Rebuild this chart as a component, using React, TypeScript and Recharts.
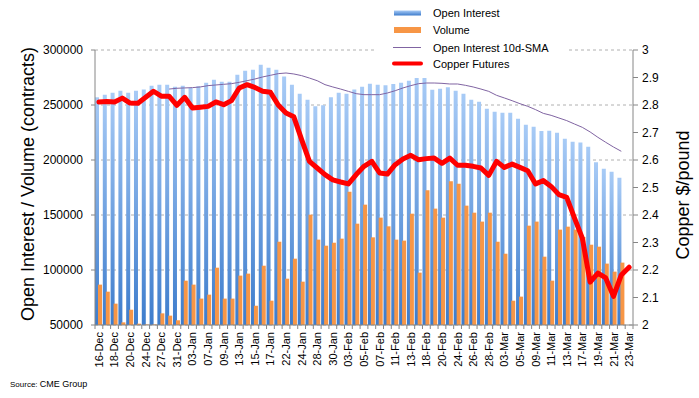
import React from 'react';
import { ComposedChart, Bar, Line, XAxis, YAxis, CartesianGrid } from 'recharts';

// trading days; only every other one gets a label on the axis
const DATES = [
  '16-Dec', '17-Dec', '18-Dec', '19-Dec', '20-Dec', '23-Dec', '24-Dec', '26-Dec', '27-Dec', '30-Dec',
  '31-Dec', '02-Jan', '03-Jan', '06-Jan', '07-Jan', '08-Jan', '09-Jan', '10-Jan', '13-Jan', '14-Jan',
  '15-Jan', '16-Jan', '17-Jan', '21-Jan', '22-Jan', '23-Jan', '24-Jan', '27-Jan', '28-Jan', '29-Jan',
  '30-Jan', '31-Jan', '03-Feb', '04-Feb', '05-Feb', '06-Feb', '07-Feb', '10-Feb', '11-Feb', '12-Feb',
  '13-Feb', '14-Feb', '18-Feb', '19-Feb', '20-Feb', '21-Feb', '24-Feb', '25-Feb', '26-Feb', '27-Feb',
  '28-Feb', '02-Mar', '03-Mar', '04-Mar', '05-Mar', '06-Mar', '09-Mar', '10-Mar', '11-Mar', '12-Mar',
  '13-Mar', '16-Mar', '17-Mar', '18-Mar', '19-Mar', '20-Mar', '21-Mar', '22-Mar', '23-Mar',
];

// contracts (last day has no OI / volume yet)
const OPEN_INTEREST = [
  257000, 259400, 261200, 263000, 261200, 263000, 264000, 267600, 268500, 268500,
  266700, 267600, 265500, 267000, 270300, 273000, 271200, 271200, 277600, 281200,
  282100, 286700, 283900, 282100, 275800, 268500, 260300, 254800, 248800, 249700,
  257000, 261200, 260300, 264200, 266700, 269400, 268500, 267900, 269100, 270300,
  272100, 274500, 274500, 263900, 264800, 266100, 263000, 260300, 254800, 253000,
  246700, 243900, 243000, 243000, 237600, 232100, 230300, 226400, 226700, 224800,
  219400, 216700, 215800, 212100, 197900, 192100, 189400, 183900,
];

const VOLUME = [
  86700, 80300, 69400, 52400, 63900, 51200, 50500, 50500, 60600, 58500,
  54300, 90300, 86700, 74000, 77600, 102100, 74000, 74000, 94900, 96700,
  67600, 103900, 72100, 125700, 92100, 110300, 89400, 150300, 127600, 122100,
  124800, 128500, 171200, 142100, 159400, 129700, 147600, 139700, 127600, 126700,
  151200, 97600, 172400, 155800, 147600, 180600, 178500, 158500, 152100, 144000,
  152100, 125700, 114800, 72100, 75800, 140300, 144000, 112100, 90300, 136700,
  139400, 136700, 130000, 123000, 121200, 105800, 98500, 106700,
];

const OI_SMA_10D = [
  null, null, null, null, null, null, null, null, null, 264500,
  265200, 265500, 265800, 266400, 267600, 268200, 268800, 269400, 270600, 272100,
  273600, 275500, 277000, 278500, 279100, 278200, 276700, 274500, 272100, 268500,
  266400, 264500, 262400, 260300, 259400, 259400, 259400, 260900, 263000, 265500,
  267600, 269400, 270000, 270000, 269700, 269100, 269100, 267900, 266400, 264500,
  262400, 258800, 256400, 253900, 251200, 248800, 245800, 242400, 240600, 238200,
  235800, 232700, 229700, 225500, 220600, 216100, 211800, 207900,
];

// $/pound
const COPPER = [
  2.811, 2.813, 2.811, 2.825, 2.807, 2.806, 2.828, 2.85, 2.832, 2.832,
  2.799, 2.828, 2.789, 2.792, 2.795, 2.811, 2.801, 2.816, 2.862, 2.874,
  2.864, 2.85, 2.846, 2.8, 2.771, 2.757, 2.674, 2.595, 2.571, 2.547,
  2.528, 2.52, 2.513, 2.547, 2.577, 2.595, 2.553, 2.549, 2.583, 2.604,
  2.617, 2.601, 2.605, 2.607, 2.588, 2.607, 2.581, 2.581, 2.577, 2.571,
  2.544, 2.595, 2.573, 2.585, 2.573, 2.561, 2.513, 2.525, 2.504, 2.474,
  2.464, 2.389, 2.316, 2.156, 2.189, 2.171, 2.104, 2.182, 2.21,
];

const LEFT_TICKS = [50000, 100000, 150000, 200000, 250000, 300000];
const RIGHT_TICKS = [2, 2.1, 2.2, 2.3, 2.4, 2.5, 2.6, 2.7, 2.8, 2.9, 3];

const data = DATES.map((date, i) => ({
  date,
  oi: OPEN_INTEREST[i] ?? null,
  volume: VOLUME[i] ?? null,
  sma: OI_SMA_10D[i] ?? null,
  copper: COPPER[i],
}));

const W = 699;
const H = 398;
const LEFT_AXIS_W = 95;
const RIGHT_AXIS_W = 66;
const BAND = (W - LEFT_AXIS_W - RIGHT_AXIS_W) / DATES.length;
const AXIS_GREY = '#868686';
const FONT = '"Liberation Sans", Arial, sans-serif';

function DateTick(props: any) {
  const { x, y, payload } = props;
  const i = payload?.index ?? DATES.indexOf(payload?.value);
  const axisY = y - 8;
  const tx = x + 4;
  const ty = y - 1;
  return (
    <g>
      <line x1={x - BAND / 2} x2={x - BAND / 2} y1={axisY} y2={axisY + 4} stroke={AXIS_GREY} />
      {i === DATES.length - 1 && (
        <line x1={x + BAND / 2} x2={x + BAND / 2} y1={axisY} y2={axisY + 4} stroke={AXIS_GREY} />
      )}
      {i % 2 === 0 && (
        <text x={tx} y={ty} transform={`rotate(-90 ${tx} ${ty})`} textAnchor="end" fontSize={11} fill="#000">
          {payload.value}
        </text>
      )}
    </g>
  );
}

function ChartLegend() {
  const rows = [
    { name: 'Open Interest', kind: 'oi', y: 11 },
    { name: 'Volume', kind: 'vol', y: 28 },
    { name: 'Open Interest 10d-SMA', kind: 'sma', y: 45.5 },
    { name: 'Copper Futures', kind: 'cu', y: 61.5 },
  ];
  return (
    <svg width={192} height={70} style={{ position: 'absolute', left: 377, top: 2 }}>
      <defs>
        <linearGradient id="oiLegend" x1="0" y1="0" x2="0" y2="1">
          <stop offset="0%" stopColor="#a8cbf6" />
          <stop offset="100%" stopColor="#3d7ccc" />
        </linearGradient>
      </defs>
      <rect x={0} y={0} width={192} height={70} fill="#fff" />
      {rows.map((r) => (
        <g key={r.name}>
          {r.kind === 'oi' && <rect x={17} y={r.y - 2.5} width={27} height={5} fill="url(#oiLegend)" />}
          {r.kind === 'vol' && <rect x={17} y={r.y - 3} width={27} height={6} fill="#f79646" />}
          {r.kind === 'sma' && <line x1={16} x2={44} y1={r.y} y2={r.y} stroke="#8064a2" strokeWidth={1} />}
          {r.kind === 'cu' && (
            <line x1={17} x2={44} y1={r.y} y2={r.y} stroke="#ff0000" strokeWidth={4} strokeLinecap="round" />
          )}
          <text x={56} y={r.y + 4} fontSize={11} fill="#000">
            {r.name}
          </text>
        </g>
      ))}
    </svg>
  );
}

export default function App() {
  return (
    <div
      style={{
        position: 'absolute',
        left: 0,
        top: 0,
        width: W,
        height: H,
        background: '#fff',
        fontFamily: FONT,
        overflow: 'hidden',
      }}
    >
      <ComposedChart
        width={W}
        height={H}
        data={data}
        margin={{ top: 50, right: 0, bottom: 28, left: 0 }}
        barCategoryGap={0}
        barGap={-1}
      >
        <defs>
          <linearGradient id="oiFill" x1="0" y1="0" x2="0" y2="1">
            <stop offset="0%" stopColor="#a8cbf6" />
            <stop offset="100%" stopColor="#3d7ccc" />
          </linearGradient>
        </defs>
        <CartesianGrid yAxisId="left" vertical={false} stroke="#b0b0b0" strokeDasharray="3 3" />
        <XAxis
          dataKey="date"
          interval={0}
          height={45}
          tick={<DateTick />}
          tickLine={false}
          axisLine={{ stroke: AXIS_GREY }}
        />
        <YAxis
          yAxisId="left"
          width={LEFT_AXIS_W}
          domain={[50000, 300000]}
          ticks={LEFT_TICKS}
          interval={0}
          allowDataOverflow
          tickSize={4}
          tickMargin={8}
          tick={{ fontSize: 12, fill: '#000' }}
          tickLine={{ stroke: AXIS_GREY }}
          axisLine={{ stroke: AXIS_GREY }}
        />
        <YAxis
          yAxisId="right"
          orientation="right"
          width={RIGHT_AXIS_W}
          domain={[2, 3]}
          ticks={RIGHT_TICKS}
          interval={0}
          allowDataOverflow
          tickSize={5}
          tickMargin={4}
          tick={{ fontSize: 12, fill: '#000' }}
          tickLine={{ stroke: AXIS_GREY }}
          axisLine={{ stroke: AXIS_GREY }}
        />
        <Bar yAxisId="left" dataKey="oi" barSize={4} fill="url(#oiFill)" isAnimationActive={false} />
        <Bar yAxisId="left" dataKey="volume" barSize={4} fill="#f79646" isAnimationActive={false} />
        <Line
          yAxisId="left"
          dataKey="sma"
          type="linear"
          stroke="#8064a2"
          strokeWidth={1}
          dot={false}
          activeDot={false}
          isAnimationActive={false}
        />
        <Line
          yAxisId="right"
          dataKey="copper"
          type="linear"
          stroke="#ff0000"
          strokeWidth={5}
          strokeLinejoin="round"
          strokeLinecap="round"
          dot={false}
          activeDot={false}
          isAnimationActive={false}
        />
      </ComposedChart>

      <ChartLegend />

      <div
        style={{
          position: 'absolute',
          left: 28 - 160,
          top: 184 - 11,
          width: 320,
          height: 22,
          lineHeight: '22px',
          textAlign: 'center',
          fontSize: 18,
          color: '#000',
          transform: 'rotate(-90deg)',
          whiteSpace: 'nowrap',
        }}
      >
        Open Interest / Volume (contracts)
      </div>
      <div
        style={{
          position: 'absolute',
          left: 683 - 100,
          top: 195 - 11,
          width: 200,
          height: 22,
          lineHeight: '22px',
          textAlign: 'center',
          fontSize: 18,
          color: '#000',
          transform: 'rotate(-90deg)',
          whiteSpace: 'nowrap',
        }}
      >
        Copper $/pound
      </div>
      <div style={{ position: 'absolute', left: 10, top: 379, fontSize: 9, color: '#000', whiteSpace: 'nowrap' }}>
        <span style={{ fontSize: 8 }}>Source: </span>CME Group
      </div>
    </div>
  );
}
